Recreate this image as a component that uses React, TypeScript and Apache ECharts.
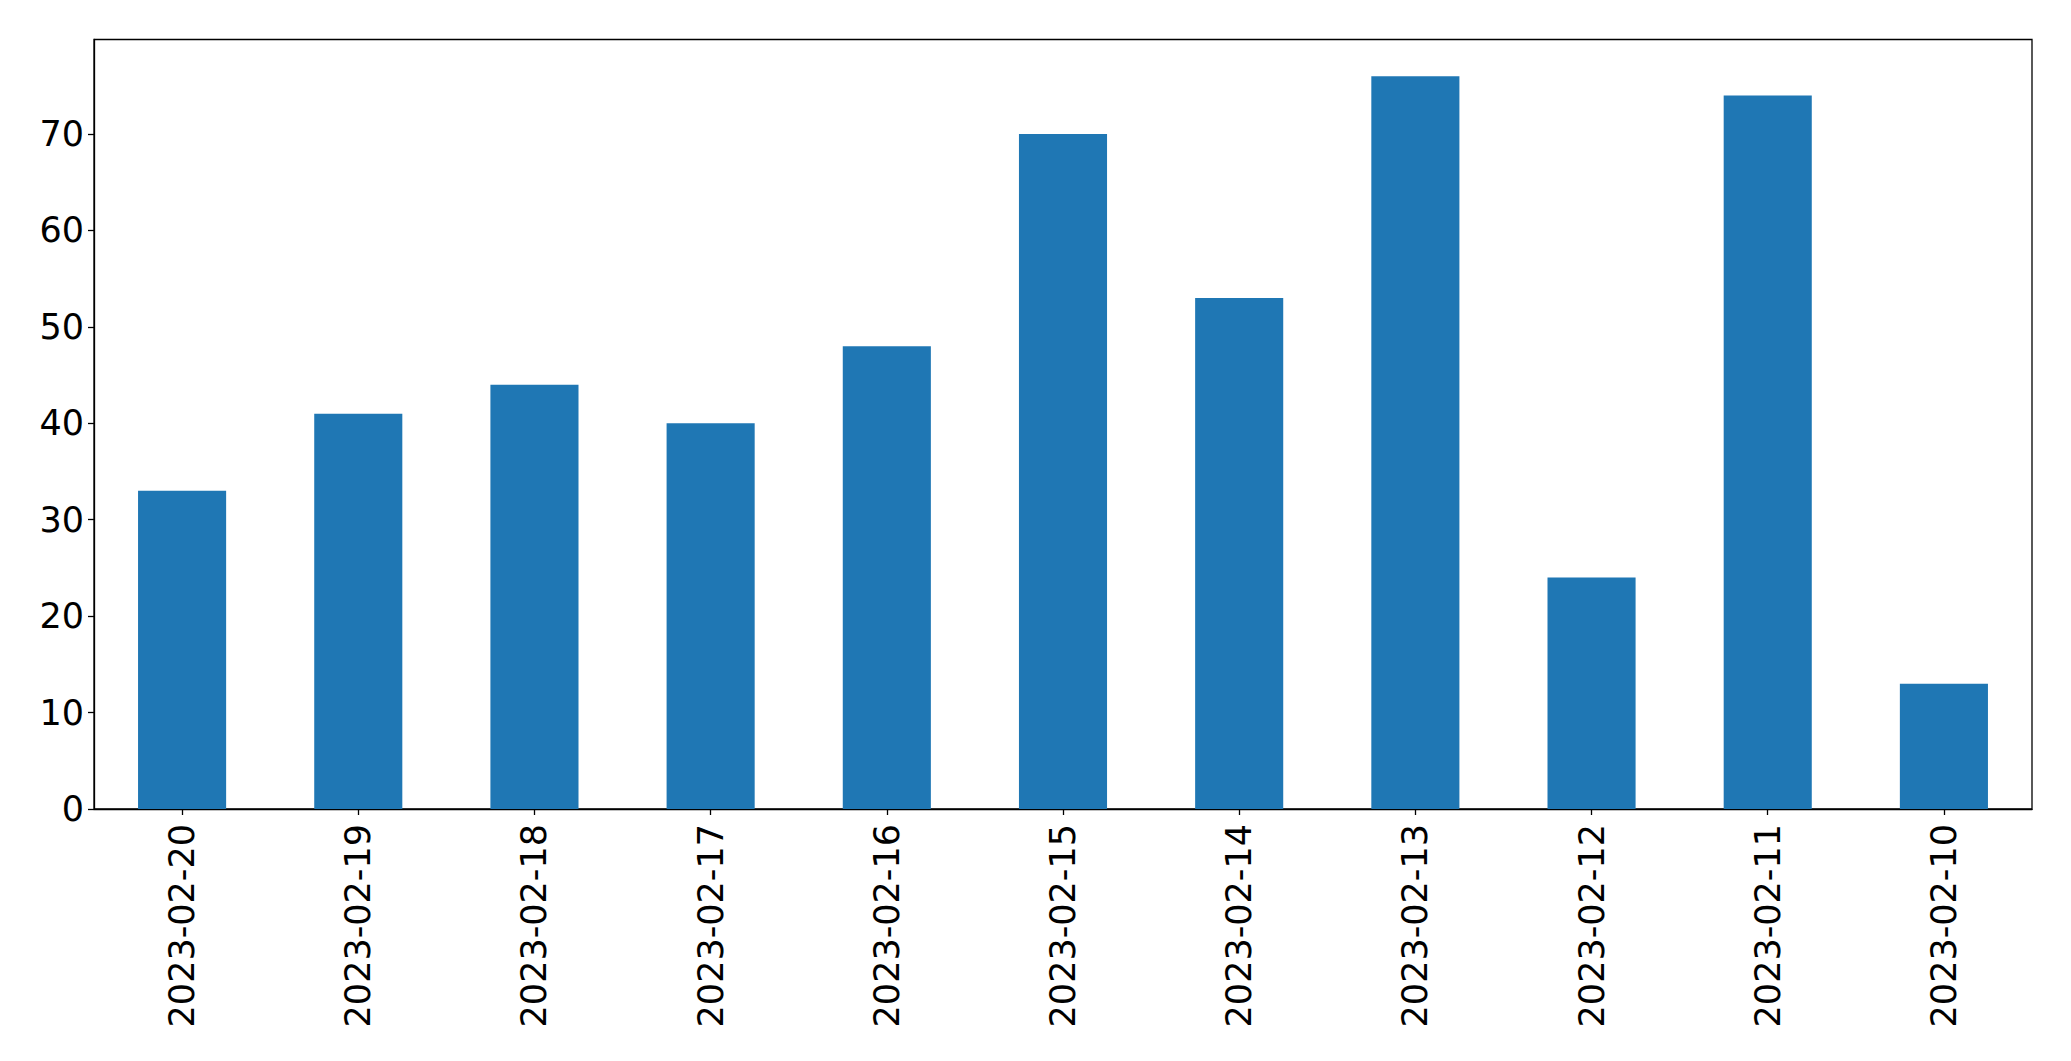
import React, { useEffect, useRef } from "react";
import * as echarts from "echarts";

const categories = [
  "2023-02-20", "2023-02-19", "2023-02-18", "2023-02-17", "2023-02-16",
  "2023-02-15", "2023-02-14", "2023-02-13", "2023-02-12", "2023-02-11", "2023-02-10",
];
const values = [33, 41, 44, 40, 48, 70, 53, 76, 24, 74, 13];
const yTicks = [0, 10, 20, 30, 40, 50, 60, 70];
const yMax = 79.8;

export default function App() {
  const ref = useRef<HTMLDivElement>(null);
  useEffect(() => {
    const chart = echarts.init(ref.current!, null, { renderer: "svg" });
    const font = "DejaVu Sans";
    chart.setOption({
      animation: false,
      backgroundColor: "#ffffff",
      grid: {
        left: 94,
        right: 39,
        top: 39.5,
        bottom: 252,
        show: true,
        borderColor: "#000000",
        borderWidth: 1.3,
        backgroundColor: "transparent",
      },
      xAxis: {
        type: "category",
        data: categories,
        axisLine: { show: true, lineStyle: { color: "#000", width: 1.3 } },
        axisTick: { show: true, alignWithLabel: true, length: 6, lineStyle: { color: "#000", width: 1.3 } },
        axisLabel: {
          rotate: 90,
          interval: 0,
          margin: 15,
          color: "#000",
          fontSize: 35,
          fontFamily: font,
        },
        splitLine: { show: false },
      },
      yAxis: {
        type: "value",
        min: 0,
        max: yMax,
        axisLine: { show: true, lineStyle: { color: "#000", width: 1.3 } },
        axisTick: { show: true, length: 6, customValues: yTicks, lineStyle: { color: "#000", width: 1.3 } },
        axisLabel: {
          customValues: yTicks,
          margin: 10,
          color: "#000",
          fontSize: 35,
          fontFamily: font,
        },
        splitLine: { show: false },
      },
      series: [
        {
          type: "bar",
          data: values,
          barCategoryGap: "50%",
          itemStyle: { color: "#1f77b4" },
        },
      ],
    });
    return () => chart.dispose();
  }, []);
  return (
    <div
      ref={ref}
      style={{ position: "fixed", left: 0, top: 0, width: 2071, height: 1061 }}
    />
  );
}
